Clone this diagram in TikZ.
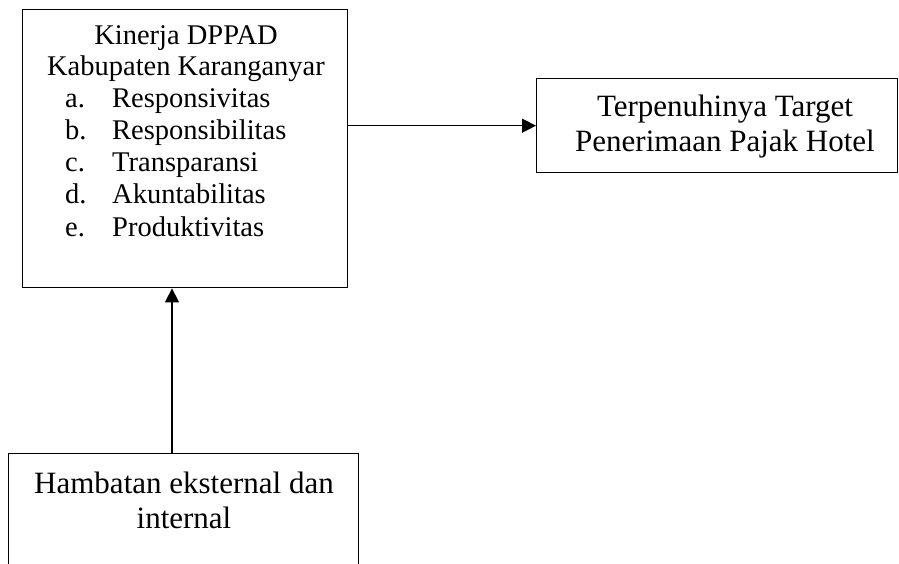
\documentclass[tikz,border=0pt]{standalone}
\usepackage{fontspec}
\setmainfont{Liberation Serif}
\usetikzlibrary{arrows.meta}
\begin{document}
\begin{tikzpicture}[x=1pt,y=-1pt,
  box/.style={draw, line width=1.4pt, inner sep=0pt, anchor=north west},
  txt/.style={inner sep=0pt, anchor=base, font=\fontsize{28.5}{32}\selectfont},
  big/.style={txt, font=\fontsize{31}{36}\selectfont},
  lft/.style={txt, anchor=base west},
  arr/.style={line width=1.4pt, -{Triangle[length=14pt,width=14pt]}}]
\useasboundingbox (0,0) rectangle (899,564);
% boxes
\node[box, minimum width=325pt, minimum height=278pt] (b1) at (22,9) {};
\node[box, minimum width=361pt, minimum height=94pt] (b2) at (536,78) {};
\node[box, minimum width=350pt, minimum height=160pt] (b3) at (8,453) {};
% box 1 text
\node[txt] (t1a) at (186,45) {Kinerja DPPAD};
\node[txt] (t1b) at (186,76) {Kabupaten Karanganyar};
\node[lft] (la) at (65,108) {a.};
\node[lft] (ia) at (112,108) {Responsivitas};
\node[lft] (lb) at (65,140) {b.};
\node[lft] (ib) at (112,140) {Responsibilitas};
\node[lft] (lc) at (65,172) {c.};
\node[lft] (ic) at (112,172) {Transparansi};
\node[lft] (ld) at (65,204) {d.};
\node[lft] (id) at (112,204) {Akuntabilitas};
\node[lft] (le) at (65,236) {e.};
\node[lft] (ie) at (112,236) {Produktivitas};
% box 2 text
\node[big] (t2a) at (725,117) {Terpenuhinya Target};
\node[big] (t2b) at (725,152) {Penerimaan Pajak Hotel};
% box 3 text
\node[big] (t3a) at (184,493) {Hambatan eksternal dan};
\node[big] (t3b) at (184,528) {internal};
% connectors
\draw[arr] (b1.east |- b2.west) -- (b2.west);
\coordinate (s3) at ([xshift=164pt]b3.north west);
\draw[arr] (s3) -- (s3 |- b1.south);
\end{tikzpicture}
\end{document}
